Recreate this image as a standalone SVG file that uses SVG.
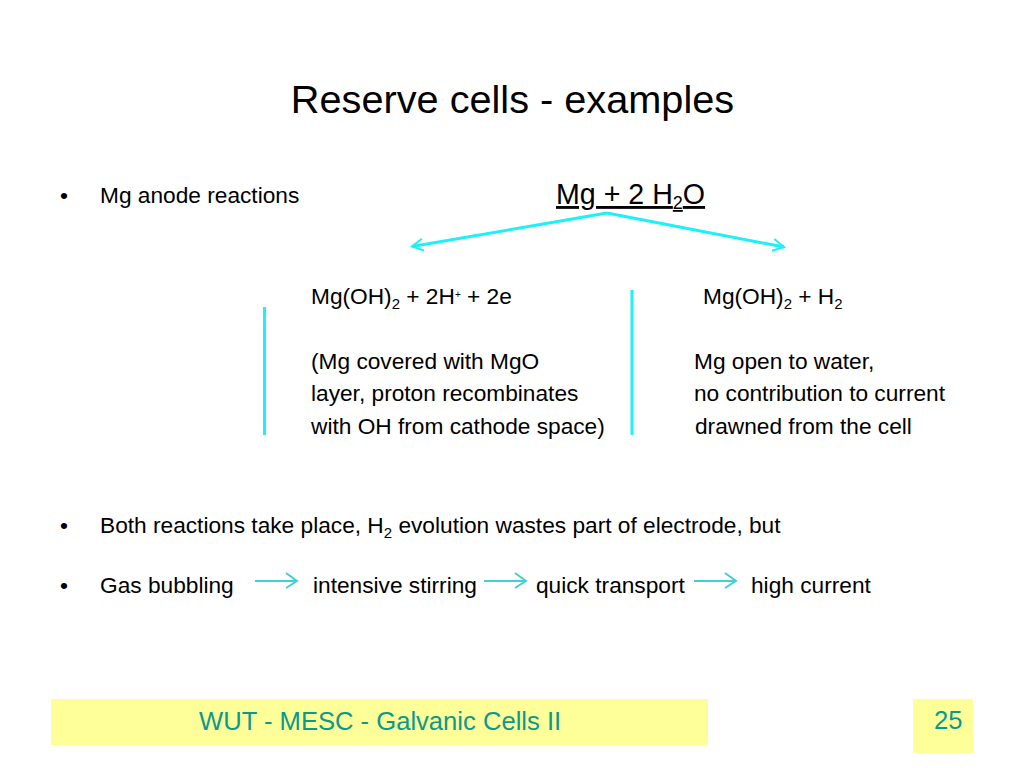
<svg xmlns="http://www.w3.org/2000/svg" width="1024" height="768" viewBox="0 0 1024 768">
<style>
text{font-family:"Liberation Sans",Arial,sans-serif;fill:#000}
.b{font-size:22.7px}
.s{font-size:15px}
.u{font-size:10px}
.c{stroke:#1cf0f8;stroke-width:3;fill:none}
.a{stroke:#44d0d0;stroke-width:2;fill:none}
.f{font-size:25.6px;fill:#0a9a8c}
</style>
<defs>
<marker id="h" markerWidth="16" markerHeight="16" refX="13" refY="8" orient="auto" markerUnits="userSpaceOnUse"><path d="M2 2L13 8L2 14" fill="none" stroke="#1cf0f8" stroke-width="2"/></marker>
</defs>
<rect width="1024" height="768" fill="#fff"/>
<g id="footer-left"><rect x="51" y="699" width="657" height="46" fill="#ffff99"/><text x="199" y="730" class="f">WUT - MESC - Galvanic Cells II</text></g>
<g id="footer-page"><rect x="913" y="699" width="60" height="54" fill="#ffff99"/><text x="934" y="729" class="f">25</text></g>
<text x="512.500" y="113" font-size="39.7" text-anchor="middle">Reserve cells - examples</text>
<g class="b">
<text x="60" y="203">•</text><text x="100" y="203">Mg anode reactions</text>
<g id="left-branch">
<text x="311" y="303.500">Mg(OH)<tspan class="s" dy="5">2</tspan><tspan dy="-5"> + 2H</tspan><tspan class="u" dy="-6">+</tspan><tspan dy="6"> + 2e</tspan></text>
<text x="311" y="368.500">(Mg covered with MgO</text>
<text x="311" y="401">layer, proton recombinates</text>
<text x="311" y="433.500">with OH from cathode space)</text>
</g>
<g id="right-branch">
<text x="703" y="303.500">Mg(OH)<tspan class="s" dy="5">2</tspan><tspan dy="-5"> + H</tspan><tspan class="s" dy="5">2</tspan></text>
<text x="694" y="368.500">Mg open to water,</text>
<text x="694" y="401">no contribution to current</text>
<text x="695" y="433.500">drawned from the cell</text>
</g>
<text x="60" y="532.500">•</text><text x="100" y="532.500">Both reactions take place, H<tspan class="s" dy="5">2</tspan><tspan dy="-5"> evolution wastes part of electrode, but</tspan></text>
<text x="60" y="592.500">•</text><text x="100" y="592.500">Gas bubbling</text>
<text x="313" y="592.500">intensive stirring</text>
<text x="536" y="592.500">quick transport</text>
<text x="751" y="592.500">high current</text>
</g>
<g id="source"><text x="556" y="204" font-size="28.6" text-decoration="underline">Mg + 2 H<tspan font-size="18" dy="5">2</tspan><tspan dy="-5">O</tspan></text></g>
<g id="connectors">
<path class="c" marker-end="url(#h)" d="M607 213L412 246.500"/>
<path class="c" marker-end="url(#h)" d="M607 213L784 247"/>
<path class="c" d="M264.500 307V435M632 290V435"/>
<path class="a" d="M255 581H297M286 573L297 581L286 588M484 581H526M515 573L526 581L515 588M694 581H736M725 573L736 581L725 588"/>
</g>
</svg>
